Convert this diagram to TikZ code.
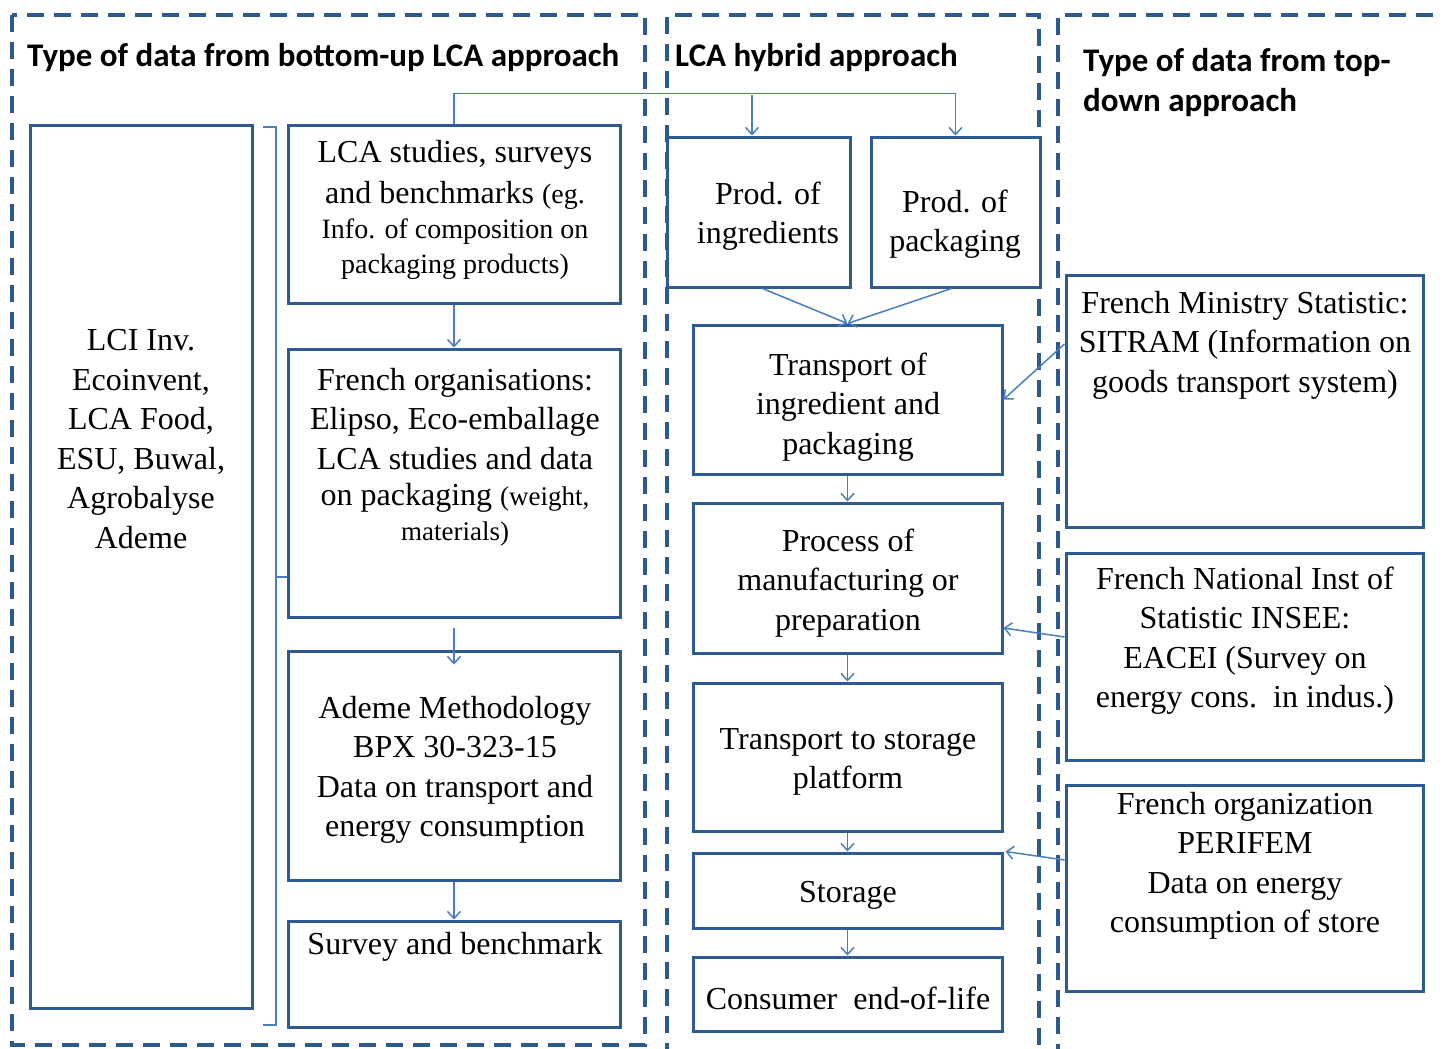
\documentclass[tikz,border=0pt]{standalone}
\usepackage{fontspec}
\setmainfont{Liberation Serif}
\newfontfamily\titlefont{Carlito}
\usetikzlibrary{arrows.meta}
\definecolor{boxblue}{HTML}{2F5B94}
\definecolor{arrblue}{HTML}{4A7EC2}
\definecolor{dashblue}{HTML}{2D5A8E}
\begin{document}
\begin{tikzpicture}[x=1pt,y=-1pt,
  box/.style={draw=boxblue,line width=3pt,inner sep=0pt,fill=white},
  frame/.style={draw=dashblue,line width=3.5pt,dash pattern=on 17pt off 10pt},
  arr/.style={draw=arrblue,line width=1.5pt,-{Straight Barb[length=7pt,width=13pt,line width=1.5pt]}},
  brc/.style={draw=arrblue,line width=1.5pt},
  txt/.style={align=center,font=\fontsize{32}{39.5}\selectfont,inner sep=0pt},
  ttl/.style={align=left,font=\titlefont\bfseries\fontsize{33}{40}\selectfont,inner sep=0pt,anchor=west}
]
\useasboundingbox (0,0) rectangle (1443,1049);
\fill[white] (0,0) rectangle (1443,1049);

% dashed frames
\draw[frame] (12,15) rectangle (645,1045);
\draw[frame] (667,1060) -- (667,15) -- (1039,15) -- (1039,1060);
\draw[frame] (1460,15) -- (1058,15) -- (1058,1060);

% titles
\node[ttl] (t1) at (27,58) {Type of data from bottom-up LCA approach};
\node[ttl] (t2) at (675,58) {LCA hybrid approach};
\node[ttl] (t3) at (1083,83) {Type of data from top-\\down approach};

% boxes: left column
\node[box,minimum width=222pt,minimum height=883pt] (LCI) at (141,566.5) {};
\node[box,minimum width=332pt,minimum height=178pt] (LCAS) at (454,214) {};
\node[box,minimum width=332pt,minimum height=268pt] (FO) at (454,483) {};
\node[box,minimum width=332pt,minimum height=229pt] (AD) at (454,765.5) {};
\node[box,minimum width=332pt,minimum height=106pt] (SV) at (454,974) {};

% middle column
\node[box,minimum width=183pt,minimum height=150pt] (PI) at (758.5,212) {};
\node[box,minimum width=169pt,minimum height=150pt] (PP) at (955.5,212) {};
\node[box,minimum width=309pt,minimum height=149pt] (TI) at (847.5,399.5) {};
\node[box,minimum width=309pt,minimum height=150pt] (PR) at (847.5,578) {};
\node[box,minimum width=309pt,minimum height=148pt] (TS) at (847.5,757) {};
\node[box,minimum width=309pt,minimum height=75pt] (ST) at (847.5,890.5) {};
\node[box,minimum width=309pt,minimum height=74pt] (CO) at (847.5,994) {};

% right column
\node[box,minimum width=357pt,minimum height=252pt] (FM) at (1244.5,401) {};
\node[box,minimum width=357pt,minimum height=207pt] (FN) at (1244.5,656.5) {};
\node[box,minimum width=357pt,minimum height=206pt] (FG) at (1244.5,888) {};

% texts
\node[txt] (xLCI) at (141,439) {LCI Inv.\\Ecoinvent,\\LCA Food,\\ESU, Buwal,\\Agrobalyse\\Ademe};
\node[txt] (xLCAS1) at (455,155) {LCA studies, surveys};
\node[txt] (xLCAS2) at (455,195) {and benchmarks {\fontsize{28}{34}\selectfont(eg.}};
\node[txt,font=\fontsize{28}{35}\selectfont] (xLCAS3) at (455,249) {Info. of composition on\\packaging products)};
\node[txt] (xFO1) at (455,419) {French organisations:\\Elipso, Eco-emballage\\LCA studies and data};
\node[txt] (xFO2) at (455,498) {on packaging {\fontsize{27}{34}\selectfont(weight,}};
\node[txt,font=\fontsize{27}{34}\selectfont] (xFO3) at (455,534) {materials)};
\node[txt] (xAD) at (455,770) {Ademe Methodology\\BPX 30-323-15\\Data on transport and\\energy consumption};
\node[txt] (xSV) at (455,947) {Survey and benchmark};
\node[txt] (xPI) at (768,216) {Prod. of\\ingredients};
\node[txt] (xPP) at (955,224) {Prod. of\\packaging};
\node[txt] (xTI) at (848,407) {Transport of\\ingredient and\\packaging};
\node[txt] (xPR) at (848,583) {Process of\\manufacturing or\\preparation};
\node[txt] (xTS) at (848,762) {Transport to storage\\platform};
\node[txt] (xST) at (848,895) {Storage};
\node[txt] (xCO) at (848,998) {Consumer\ \ end-of-life};
\node[txt] (xFM) at (1245,345) {French Ministry Statistic:\\SITRAM (Information on\\goods transport system)};
\node[txt] (xFN) at (1245,640.5) {French National Inst of\\Statistic INSEE:\\EACEI (Survey on\\energy cons.\ \ in indus.)};
\node[txt] (xFG) at (1245,866) {French organization\\PERIFEM\\Data on energy\\consumption of store};

% brace
\draw[brc] (263,127) -- (276,127) -- (276,1025) -- (263,1025);
\coordinate (bm) at (276,577);
\draw[brc] (bm) -- (FO.west |- bm);

% connectors
\draw[arr] (LCAS.north) -- ++(0,-30) -| (PP.north);
\coordinate (bus) at (752,95);
\draw[arr] (bus) -- (bus |- PI.north);
\draw[arr] (LCAS.south) -- (FO.north);
\draw[arr] ([yshift=-9pt]FO.south) -- ([yshift=-15pt]AD.north);
\draw[arr] (AD.south) -- (SV.north);
\draw[arr] ([xshift=4pt]PI.south) -- (TI.north);
\draw[arr] ([xshift=-4pt]PP.south) -- (TI.north);
\draw[arr] (TI.south) -- (PR.north);
\draw[arr] (PR.south) -- (TS.north);
\draw[arr] (TS.south) -- (ST.north);
\draw[arr] (ST.south) -- (CO.north);
\draw[arr] ([yshift=57pt]FM.west) -- (TI.east);
\draw[arr] ([yshift=19.5pt]FN.west) -- ([yshift=-50pt]PR.east);
\draw[arr] ([yshift=28pt]FG.west) -- ([xshift=2pt]ST.north east);
\end{tikzpicture}
\end{document}
